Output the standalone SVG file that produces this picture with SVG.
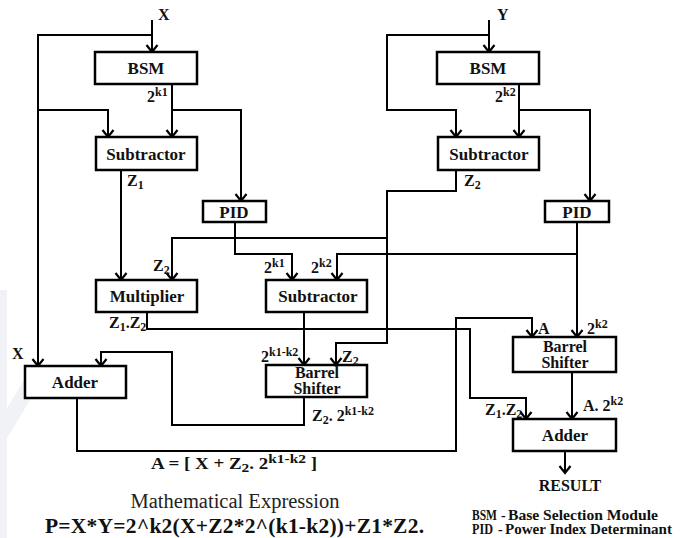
<svg xmlns="http://www.w3.org/2000/svg" width="685" height="538" viewBox="0 0 685 538">
<defs>
<marker id="arr" viewBox="-9 -7 11 14" markerWidth="11" markerHeight="14" refX="0" refY="0" orient="auto" markerUnits="userSpaceOnUse">
<path d="M-7,-5.5 L0,0 L-7,5.5" fill="none" stroke="#000" stroke-width="2.2"/>
</marker>
<style>
text{font-family:"Liberation Serif","Times New Roman","DejaVu Serif",serif}
.box{fill:#fff;stroke:#000;stroke-width:2.5}
.bt{font-weight:bold;font-size:17px;text-anchor:middle;fill:#111}
.bt2{font-weight:bold;font-size:16px;text-anchor:middle;fill:#111}
.lb{font-weight:bold;font-size:16px;fill:#111}
.lg{font-weight:bold;font-size:14px;fill:#111}
.sup{font-size:12px}
.ln{fill:none;stroke:#000;stroke-width:2;marker-end:url(#arr)}
</style>
</defs>
<rect width="685" height="538" fill="#fff"/>
<g id="watermark" fill="#f0f2f5">
<polygon points="0,290 7,290 7,538 0,538"/>
<polygon points="0,420 30,370 30,400 0,450"/>
</g>
<g id="connectors">
<path class="ln" d="M152,20 V52"/>
<path class="ln" d="M152,35 H38 V366"/>
<path class="ln" d="M172,84 V137"/>
<path class="ln" d="M38,110 H108 V137"/>
<path class="ln" d="M172,110 H241 V201"/>
<path class="ln" d="M121,170 V280"/>
<path class="ln" d="M235,222 V254 H292 V280"/>
<path class="ln" d="M456,170 V191 H387 V343 H336 V365"/>
<path class="ln" d="M387,238 H172 V280"/>
<path class="ln" d="M489,20 V52"/>
<path class="ln" d="M489,35 H387 V110 H456 V137"/>
<path class="ln" d="M519,84 V137"/>
<path class="ln" d="M519,110 H590 V201"/>
<path class="ln" d="M577,222 V337"/>
<path class="ln" d="M577,254 H337 V280"/>
<path class="ln" d="M304,312 V365"/>
<path class="ln" d="M147,312 V329 H470 V398 H526 V419"/>
<path class="ln" d="M77,398 V451 H456 V318 H532 V337"/>
<path class="ln" d="M304,397 V425 H172 V352 H101 V366"/>
<path class="ln" d="M572,372 V419"/>
<path class="ln" d="M565,451 V473"/>
</g>
<g id="bsm_x"><rect class="box" x="95" y="52" width="102" height="32"/><text class="bt" x="146" y="74">BSM</text></g>
<g id="sub_x"><rect class="box" x="96" y="137" width="101" height="33"/><text class="bt" x="146" y="160">Subtractor</text></g>
<g id="pid_x"><rect class="box" x="203" y="201" width="63" height="21"/><text class="bt" x="234" y="218">PID</text></g>
<g id="bsm_y"><rect class="box" x="437" y="52" width="102" height="32"/><text class="bt" x="488" y="74">BSM</text></g>
<g id="sub_y"><rect class="box" x="438" y="137" width="101" height="33"/><text class="bt" x="489" y="160">Subtractor</text></g>
<g id="pid_y"><rect class="box" x="545" y="201" width="64" height="21"/><text class="bt" x="577" y="218">PID</text></g>
<g id="multiplier"><rect class="box" x="96" y="280" width="101" height="32"/><text class="bt" x="147" y="302">Multiplier</text></g>
<g id="sub_mid"><rect class="box" x="266" y="280" width="101" height="32"/><text class="bt" x="318" y="302">Subtractor</text></g>
<g id="adder_x"><rect class="box" x="25" y="366" width="101" height="32"/><text class="bt" x="75" y="388">Adder</text></g>
<g id="barrel_mid"><rect class="box" x="266" y="365" width="101" height="32"/><text class="bt2" x="317" y="378">Barrel</text><text class="bt2" x="317" y="394">Shifter</text></g>
<g id="barrel_y"><rect class="box" x="513" y="337" width="103" height="35"/><text class="bt2" x="565" y="352">Barrel</text><text class="bt2" x="565" y="368">Shifter</text></g>
<g id="adder_y"><rect class="box" x="513" y="419" width="103" height="32"/><text class="bt" x="565" y="441">Adder</text></g>
<g id="labels">
<text class="lb" x="158" y="20" font-size="19">X</text>
<text class="lb" x="497" y="20" font-size="19">Y</text>
<text class="lb" x="147" y="102">2<tspan class="sup" dy="-6">k1</tspan></text>
<text class="lb" x="495" y="102">2<tspan class="sup" dy="-6">k2</tspan></text>
<text class="lb" x="127" y="186">Z<tspan class="sup" dy="3">1</tspan></text>
<text class="lb" x="464" y="186">Z<tspan class="sup" dy="3">2</tspan></text>
<text class="lb" x="153" y="271">Z<tspan class="sup" dy="3">2</tspan></text>
<text class="lb" x="109" y="328">Z<tspan class="sup" dy="3">1</tspan><tspan dy="-3">.Z</tspan><tspan class="sup" dy="3">2</tspan></text>
<text class="lb" x="264" y="273">2<tspan class="sup" dy="-6">k1</tspan></text>
<text class="lb" x="311" y="273">2<tspan class="sup" dy="-6">k2</tspan></text>
<text class="lb" x="261" y="362">2<tspan class="sup" dy="-6">k1-k2</tspan></text>
<text class="lb" x="342" y="362">Z<tspan class="sup" dy="3">2</tspan></text>
<text class="lb" x="312" y="421">Z<tspan class="sup" dy="3">2</tspan><tspan dy="-3">. 2</tspan><tspan class="sup" dy="-6">k1-k2</tspan></text>
<text class="lb" x="12" y="359" font-size="17">X</text>
<text class="lb" x="151" y="469" font-size="19" textLength="166" lengthAdjust="spacingAndGlyphs">A = [ X + Z<tspan font-size="13" dy="3">2</tspan><tspan dy="-3">. 2</tspan><tspan font-size="13" dy="-6">k1-k2</tspan><tspan dy="6"> ]</tspan></text>
<text class="lb" x="538" y="334" font-size="17">A</text>
<text class="lb" x="587" y="334">2<tspan class="sup" dy="-6">k2</tspan></text>
<text class="lb" x="583" y="411">A. 2<tspan class="sup" dy="-6">k2</tspan></text>
<text class="lb" x="485" y="415">Z<tspan class="sup" dy="3">1</tspan><tspan dy="-3">.Z</tspan><tspan class="sup" dy="3">2</tspan></text>
<text class="lb" x="570" y="491" font-size="16.5" text-anchor="middle">RESULT</text>
<text x="235" y="508" font-size="20.5" text-anchor="middle" fill="#222">Mathematical Expression</text>
<text x="45" y="533" font-size="21.5" font-weight="bold" fill="#111" textLength="379" lengthAdjust="spacing">P=X*Y=2^k2(X+Z2*2^(k1-k2))+Z1*Z2.</text>
</g>
<g id="legend">
<text class="lg" x="472" y="520" textLength="25" lengthAdjust="spacingAndGlyphs">BSM</text>
<text class="lg" x="501" y="520">-</text>
<text class="lg" x="508" y="520" textLength="150" lengthAdjust="spacingAndGlyphs">Base Selection Module</text>
<text class="lg" x="472" y="534" textLength="21" lengthAdjust="spacingAndGlyphs">PID</text>
<text class="lg" x="498" y="534">-</text>
<text class="lg" x="505" y="534" textLength="167" lengthAdjust="spacingAndGlyphs">Power Index Determinant</text>
</g>
</svg>
